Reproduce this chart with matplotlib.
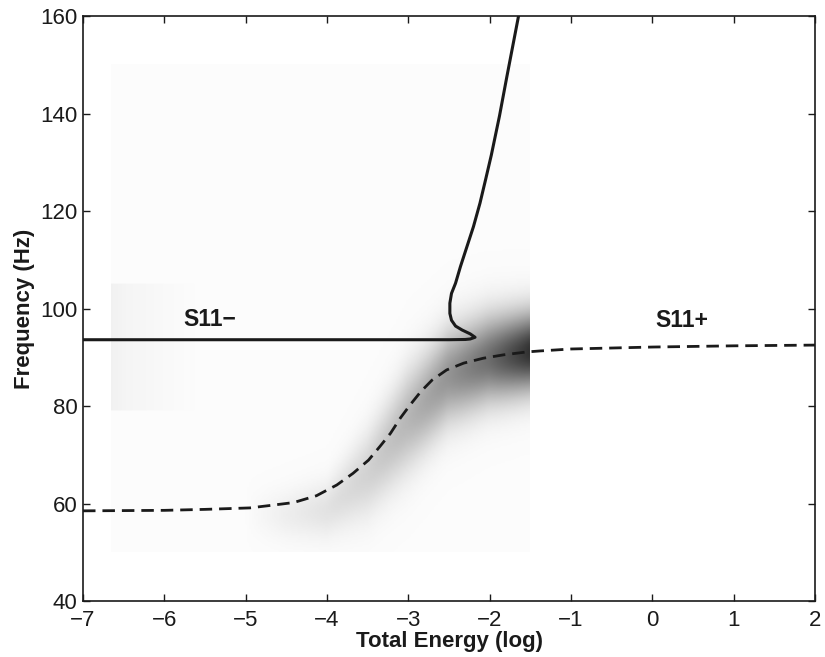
import numpy as np
import matplotlib
matplotlib.use("Agg")
import matplotlib.pyplot as plt
from matplotlib.colors import LinearSegmentedColormap

plt.rcParams['font.family'] = ['Liberation Sans', 'DejaVu Sans']

# S11+ branch (dashed)
plus_x = [-7, -6, -5.5, -4.95, -4.70, -4.41, -4.13, -3.88, -3.68, -3.49, -3.35, -3.22, -3.10,
          -2.98, -2.85, -2.71, -2.53, -2.32, -2.08, -1.83, -1.54, -1.38, -1, 0, 1, 2]
plus_y = [58.5, 58.6, 58.8, 59.1, 59.6, 60.2, 61.6, 63.8, 66.2, 68.9, 71.7, 74.4, 77.5,
          80.2, 82.9, 85.3, 87.4, 88.8, 89.8, 90.5, 91.1, 91.3, 91.7, 92.1, 92.35, 92.5]

# S11- branch (solid)
minus_x = [-7, -3, -2.5, -2.3, -2.24, -2.18, -2.24, -2.34, -2.42, -2.47, -2.49, -2.49, -2.47,
           -2.42, -2.36, -2.28, -2.20, -2.12, -2.05, -1.98, -1.88, -1.79, -1.64]
minus_y = [93.6, 93.6, 93.6, 93.65, 93.75, 94.1, 94.8, 95.6, 96.4, 97.6, 99.0, 101.1, 103.1,
           105.2, 108.6, 112.7, 116.8, 121.6, 126.5, 131.5, 139.5, 147.5, 160.5]

# background map (energy band)
map_xlim = [-6.65, -1.5]
map_ylim = [50, 150]
band_x = [-6.65, -5.0, -4.5, -4.0, -3.5, -3.0, -2.5, -2.0, -1.5]
band_center = [58, 57.5, 57.5, 58.5, 66, 77, 86, 89.5, 91]
band_sigma = [3, 3, 3.5, 4, 6, 7, 6.5, 6, 5.5]
band_level = [0.0, 0.0, 0.06, 0.11, 0.18, 0.3, 0.45, 0.62, 0.88]
streak_x = [-6.65, -6.45, -6.1, -5.6]
streak_level = [0.045, 0.03, 0.015, 0.0]
streak_ylim = [79, 105]
base_level = 0.015

fig = plt.figure(figsize=(8.25, 6.57), dpi=100)
ax = fig.add_axes([0.1006, 0.0852, 0.8874, 0.8904])

xs = np.linspace(map_xlim[0], map_xlim[1], 200)
ys = np.linspace(map_ylim[0], map_ylim[1], 300)
X, Y = np.meshgrid(xs, ys)
c = np.interp(X, band_x, band_center)
s = np.interp(X, band_x, band_sigma)
a = np.interp(X, band_x, band_level)
Z = base_level + a * np.exp(-0.5 * ((Y - c) / s) ** 2)
inside = (Y >= streak_ylim[0]) & (Y <= streak_ylim[1])
Z = Z + inside * np.interp(X, streak_x, streak_level)
Z = np.clip(Z, 0, 1)

cmap = LinearSegmentedColormap.from_list("wb", ["#ffffff", "#1a1a1a"])
ax.imshow(Z, origin="lower", extent=[map_xlim[0], map_xlim[1], map_ylim[0], map_ylim[1]],
          aspect="auto", cmap=cmap, vmin=0, vmax=1, interpolation="bilinear", zorder=1)

ax.plot(minus_x, minus_y, color="#1a1a1a", lw=2.2, zorder=3, solid_joinstyle="round")
ax.plot(plus_x, plus_y, color="#1a1a1a", lw=2.0, linestyle=(0, (4.5, 2.5)), zorder=3)

ax.text(-5.77, 97.8, "S11\u2212", fontsize=16.5, fontweight="bold", va="center", color="#1a1a1a")
ax.text(0.04, 97.6, "S11+", fontsize=16.5, fontweight="bold", va="center", color="#1a1a1a")

ax.set_xlim(-7, 2)
ax.set_ylim(40, 160)
ax.set_xticks(range(-7, 3))
ax.set_yticks(range(40, 161, 20))
ax.tick_params(direction="in", top=True, right=True, length=5, width=1,
               labelsize=16, colors="#1a1a1a")
ax.tick_params(axis="x", pad=6.5)
ax.tick_params(axis="y", pad=4)
for sp in ax.spines.values():
    sp.set_linewidth(1.2)
    sp.set_color("#1a1a1a")

ax.set_xlabel("Total Energy (log)", fontsize=16, fontweight="bold", color="#1a1a1a", labelpad=0)
ax.set_ylabel("Frequency (Hz)", fontsize=16, fontweight="bold", color="#1a1a1a", labelpad=4)

fig.savefig("out.png", dpi=100)
